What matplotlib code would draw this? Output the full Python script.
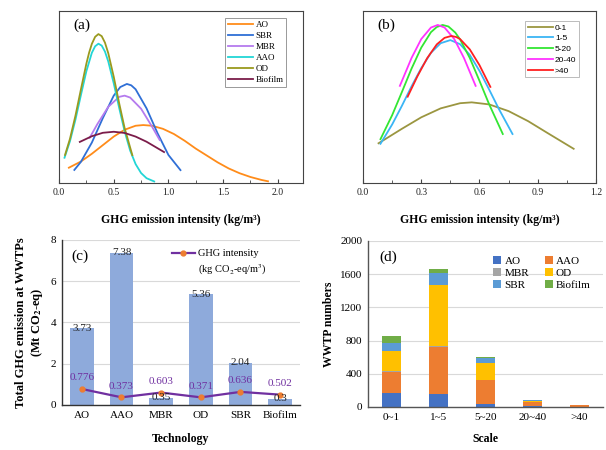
import matplotlib
matplotlib.use("Agg")
import matplotlib.pyplot as plt
import numpy as np
from matplotlib.ticker import MultipleLocator, FormatStrFormatter

plt.rcParams["font.family"] = ["Liberation Serif", "DejaVu Serif"]
plt.rcParams["mathtext.fontset"] = "stix"

# ---------- (a) fitted intensity curves per technology (relative density) ----------
ao_x = [0.09, 0.2, 0.3, 0.4, 0.5, 0.6, 0.7, 0.77, 0.85, 0.95, 1.05, 1.15, 1.25, 1.35, 1.45, 1.55, 1.65, 1.75, 1.85, 1.91]
ao_y = [0.089, 0.125, 0.17, 0.22, 0.27, 0.31, 0.333, 0.337, 0.333, 0.315, 0.285, 0.245, 0.2, 0.16, 0.12, 0.085, 0.057, 0.035, 0.018, 0.01]
sbr_x = [0.14, 0.2, 0.3, 0.4, 0.5, 0.56, 0.62, 0.66, 0.7, 0.8, 0.9, 1.0, 1.11]
sbr_y = [0.076, 0.123, 0.235, 0.377, 0.508, 0.558, 0.576, 0.568, 0.545, 0.434, 0.29, 0.163, 0.075]
mbr_x = [0.28, 0.35, 0.45, 0.55, 0.6, 0.65, 0.75, 0.85, 0.92]
mbr_y = [0.263, 0.342, 0.443, 0.501, 0.508, 0.497, 0.432, 0.328, 0.25]
aao_x = [0.05, 0.1, 0.15, 0.2, 0.25, 0.3, 0.33, 0.36, 0.39, 0.42, 0.45, 0.5, 0.55, 0.6, 0.65, 0.7, 0.75, 0.8, 0.87]
aao_y = [0.147, 0.243, 0.368, 0.511, 0.65, 0.757, 0.795, 0.81, 0.799, 0.764, 0.707, 0.58, 0.436, 0.3, 0.189, 0.11, 0.058, 0.028, 0.009]
od_x = [0.055, 0.1, 0.15, 0.2, 0.25, 0.275, 0.3, 0.33, 0.36, 0.39, 0.42, 0.45, 0.5, 0.55, 0.6, 0.67]
od_y = [0.163, 0.257, 0.391, 0.544, 0.694, 0.758, 0.809, 0.85, 0.866, 0.854, 0.816, 0.755, 0.618, 0.463, 0.318, 0.162]
bio_x = [0.19, 0.3, 0.4, 0.5, 0.6, 0.7, 0.8, 0.96]
bio_y = [0.239, 0.272, 0.292, 0.298, 0.291, 0.27, 0.24, 0.18]

# ---------- (b) fitted intensity curves per scale ----------
s01_x = [0.08, 0.2, 0.3, 0.4, 0.5, 0.56, 0.65, 0.75, 0.85, 0.95, 1.085]
s01_y = [0.231, 0.315, 0.382, 0.434, 0.464, 0.469, 0.457, 0.418, 0.36, 0.291, 0.199]
s15_x = [0.09, 0.15, 0.2, 0.25, 0.3, 0.35, 0.4, 0.45, 0.5, 0.55, 0.6, 0.65, 0.7, 0.77]
s15_y = [0.228, 0.34, 0.448, 0.562, 0.668, 0.757, 0.813, 0.831, 0.807, 0.745, 0.652, 0.543, 0.43, 0.285]
s520_x = [0.09, 0.15, 0.2, 0.25, 0.3, 0.35, 0.38, 0.41, 0.44, 0.475, 0.5, 0.55, 0.6, 0.65, 0.72]
s520_y = [0.255, 0.394, 0.528, 0.665, 0.787, 0.877, 0.907, 0.919, 0.91, 0.875, 0.835, 0.727, 0.594, 0.457, 0.285]
s2040_x = [0.19, 0.25, 0.3, 0.35, 0.385, 0.42, 0.47, 0.52, 0.58]
s2040_y = [0.565, 0.727, 0.837, 0.904, 0.919, 0.904, 0.837, 0.727, 0.565]
s40_x = [0.23, 0.28, 0.33, 0.38, 0.42, 0.455, 0.48, 0.5, 0.55, 0.6, 0.656]
s40_y = [0.502, 0.62, 0.725, 0.806, 0.844, 0.855, 0.849, 0.837, 0.777, 0.685, 0.559]

# ---------- (c) totals per technology ----------
tech = ["AO", "AAO", "MBR", "OD", "SBR", "Biofilm"]
total_ghg = [3.73, 7.38, 0.35, 5.36, 2.04, 0.3]
ghg_intensity = [0.776, 0.373, 0.603, 0.371, 0.636, 0.502]

# ---------- (d) WWTP numbers by scale ----------
scales = ["0~1", "1~5", "5~20", "20~40", ">40"]
n_ao = [170, 155, 40, 12, 2]
n_aao = [250, 565, 280, 52, 18]
n_mbr = [15, 10, 5, 2, 0]
n_od = [245, 735, 205, 8, 1]
n_sbr = [90, 150, 60, 6, 2]
n_bio = [80, 50, 10, 6, 1]

fig = plt.figure(figsize=(6.06, 4.5), dpi=100)
edge = "#444444"


def curve_panel(rect, curves, xmax, major, minor, tag):
    ax = fig.add_axes(rect)
    for xs, ys, col, lab in curves:
        ax.plot(xs, ys, color=col, lw=1.3, label=lab)
    ax.set_xlim(0, xmax)
    ax.set_ylim(0, 1)
    ax.set_yticks([])
    ax.xaxis.set_major_locator(MultipleLocator(major))
    ax.xaxis.set_minor_locator(MultipleLocator(minor))
    ax.xaxis.set_major_formatter(FormatStrFormatter("%.1f"))
    ax.tick_params(axis="x", which="major", direction="in", length=3, labelsize=7,
                   colors=edge, labelcolor="#222222")
    ax.tick_params(axis="x", which="minor", direction="in", length=2, colors=edge)
    for s in ax.spines.values():
        s.set_color(edge)
    ax.set_xlabel("GHG emission intensity (kg/m³)", fontsize=8.5, fontweight="bold", labelpad=12)
    ax.text(0.06, 0.92, tag, transform=ax.transAxes, fontsize=11, va="center")
    return ax


# ---- (a) ----
ax = curve_panel([0.0974, 0.5933, 0.4026, 0.3822], [
    (ao_x, ao_y, "#ff8c1a", "AO"),
    (sbr_x, sbr_y, "#2f6fd6", "SBR"),
    (mbr_x, mbr_y, "#b57bee", "MBR"),
    (aao_x, aao_y, "#22d6d6", "AAO"),
    (od_x, od_y, "#9a9a1e", "OD"),
    (bio_x, bio_y, "#7b1c4a", "Biofilm"),
], 2.23, 0.5, 0.25, "(a)")
leg = ax.legend(loc="upper right", bbox_to_anchor=(0.95, 0.985), fontsize=6.5, handlelength=2.8,
                labelspacing=0.3, borderpad=0.3, handletextpad=0.3, fancybox=False, framealpha=1)
leg.get_frame().set_edgecolor("#999999")
leg.get_frame().set_linewidth(0.7)

# ---- (b) ----
ax = curve_panel([0.599, 0.5933, 0.3845, 0.3822], [
    (s01_x, s01_y, "#9b9640", "0-1"),
    (s15_x, s15_y, "#3ab5f5", "1-5"),
    (s520_x, s520_y, "#33e633", "5-20"),
    (s2040_x, s2040_y, "#ff33ff", "20-40"),
    (s40_x, s40_y, "#ff2020", ">40"),
], 1.2, 0.3, 0.15, "(b)")
leg = ax.legend(loc="upper right", bbox_to_anchor=(0.945, 0.965), prop={"family": "Liberation Sans", "size": 6},
                handlelength=3.0, labelspacing=0.35, borderpad=0.3, handletextpad=0.3,
                fancybox=False, framealpha=1)
leg.get_frame().set_edgecolor("#bbbbbb")
leg.get_frame().set_linewidth(0.7)

# ---- (c) ----
ax = fig.add_axes([0.1023, 0.1, 0.3927, 0.3667])
xc = np.arange(len(tech))
ax.bar(xc, total_ghg, width=0.6, color="#8eaadb", zorder=2)
for xi, v in zip(xc, total_ghg):
    ax.text(xi, v, f"{v:g}", ha="center", va="center", fontsize=8, color="#222222", zorder=4)
ax.plot(xc, ghg_intensity, color="#7030a0", lw=1.6, marker="o", ms=3.5, mfc="#ed7d31", mec="#ed7d31",
        zorder=3, label="GHG intensity")
for xi, v in zip(xc, ghg_intensity):
    ax.annotate(f"{v:g}", (xi, v), xytext=(0, 8), textcoords="offset points", ha="center", va="center",
                fontsize=8, color="#7030a0", zorder=4)
ax.set_xlim(-0.5, len(tech) - 0.5)
ax.set_ylim(0, 8)
ax.set_yticks([0, 2, 4, 6, 8])
ax.yaxis.grid(True, color="#d9d9d9", lw=0.8, zorder=0)
ax.set_axisbelow(True)
ax.set_xticks(xc)
ax.set_xticklabels(tech)
ax.tick_params(axis="both", length=0, labelsize=8, pad=4)
for s in ["top", "right"]:
    ax.spines[s].set_visible(False)
for s in ["left", "bottom"]:
    ax.spines[s].set_color("#333333")
    ax.spines[s].set_linewidth(1.0)
ax.set_xlabel("Technology", fontsize=8.5, fontweight="bold", labelpad=10)
ax.set_ylabel("Total GHG emission at WWTPs\n(Mt CO$_\\mathbf{2}$-eq)", fontsize=9, fontweight="bold", labelpad=4)
ax.text(0.04, 0.9, "(c)", transform=ax.transAxes, fontsize=11, va="center")
ax.legend(loc="upper left", bbox_to_anchor=(0.43, 0.99), fontsize=7.5, frameon=False, handlelength=2.2,
          handletextpad=0.3, borderpad=0.2)
ax.text(0.57, 0.818, "(kg CO$_2$-eq/m$^3$)", transform=ax.transAxes, fontsize=7.5, va="center")

# ---- (d) ----
ax = fig.add_axes([0.6073, 0.0956, 0.3877, 0.3689])
xd = np.arange(len(scales))
stack = [
    (n_ao, "#4472c4", "AO"),
    (n_aao, "#ed7d31", "AAO"),
    (n_mbr, "#a5a5a5", "MBR"),
    (n_od, "#ffc000", "OD"),
    (n_sbr, "#5b9bd5", "SBR"),
    (n_bio, "#70ad47", "Biofilm"),
]
bottom = np.zeros(len(scales))
handles = []
for vals, col, lab in stack:
    b = ax.bar(xd, vals, width=0.4, bottom=bottom, color=col, label=lab, zorder=2)
    handles.append(b)
    bottom += np.array(vals)
ax.set_xlim(-0.5, len(scales) - 0.5)
ax.set_ylim(0, 2000)
ax.set_yticks(range(0, 2001, 400))
ax.yaxis.grid(True, color="#d9d9d9", lw=0.8, zorder=0)
ax.set_axisbelow(True)
ax.set_xticks(xd)
ax.set_xticklabels(scales)
ax.tick_params(axis="both", length=0, labelsize=8, pad=4)
for s in ["top", "right"]:
    ax.spines[s].set_visible(False)
for s in ["left", "bottom"]:
    ax.spines[s].set_color("#555555")
    ax.spines[s].set_linewidth(1.0)
ax.set_xlabel("Scale", fontsize=8.5, fontweight="bold", labelpad=8)
ax.set_ylabel("WWTP numbers", fontsize=8.5, fontweight="bold", labelpad=4)
ax.text(0.05, 0.9, "(d)", transform=ax.transAxes, fontsize=11, va="center")
# legend filled row by row: AO, AAO / MBR, OD / SBR, Biofilm
order = [0, 2, 4, 1, 3, 5]
ax.legend([handles[i] for i in order], [stack[i][2] for i in order],
          loc="upper right", bbox_to_anchor=(0.99, 0.97), ncol=2, fontsize=8, frameon=False,
          handlelength=0.7, handleheight=0.7, handletextpad=0.3, columnspacing=1.4, labelspacing=0.2)

fig.savefig("out.png", dpi=100)
